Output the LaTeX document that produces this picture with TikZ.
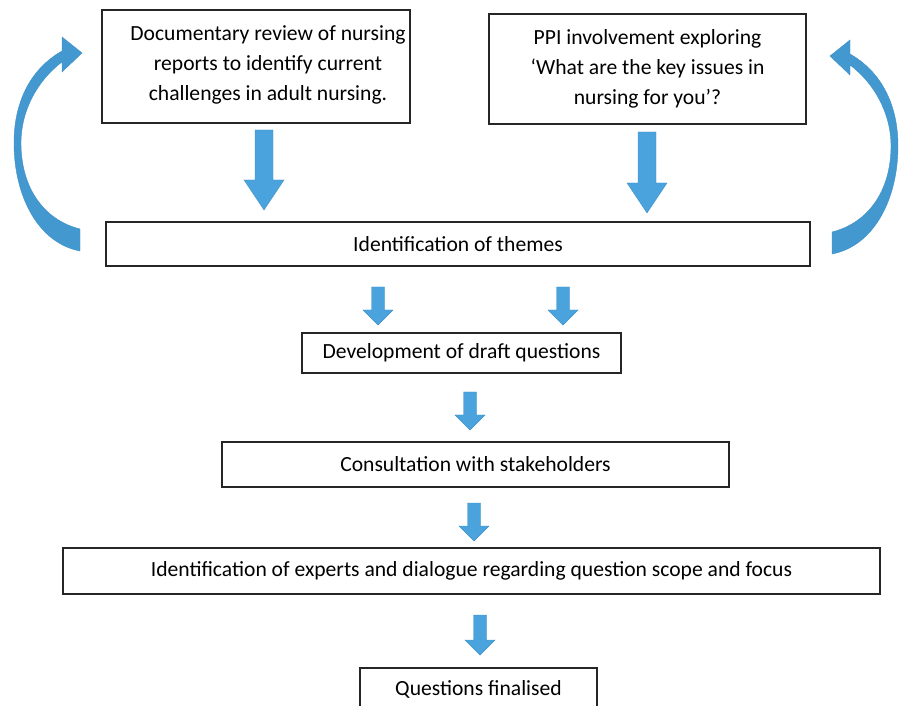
\documentclass[tikz,border=0pt]{standalone}
\usepackage{fontspec}
\setmainfont{Carlito}
\usetikzlibrary{positioning}

\definecolor{arrowblue}{RGB}{74,163,221}
\definecolor{arrowedge}{RGB}{62,145,200}
\definecolor{curveblue}{RGB}{66,152,207}

\tikzset{
  boxtext/.style={align=center, inner sep=0pt, font=\fontsize{16.2}{22.5}\selectfont},
  box/.style={boxtext, draw=black!85, line width=1.1pt},
  blockarrow/.style={fill=arrowblue, draw=arrowedge, line width=0.3pt},
  curvearrow/.style={fill=curveblue, draw=arrowedge, line width=0.3pt},
}

% block arrow pointing down: centre x, top y, tip y, half shaft, half head, head start y
\newcommand{\downarr}[6]{%
  \filldraw[blockarrow] (#1-#4,#2) -- (#1+#4,#2) -- (#1+#4,#6) -- (#1+#5,#6)
    -- (#1,#3) -- (#1-#5,#6) -- (#1-#4,#6) -- cycle;}

% curved arrow on the left, tail at the bottom, head at the top
\newcommand{\loopback}{%
  (80,251) .. controls (38,243) and (14,196) .. (14,143)
    .. controls (14,100) and (32,68) .. (62,51)
    -- (62,37) -- (82,53) -- (62,72) -- (62,62)
    .. controls (38,80) and (21,110) .. (21,143)
    .. controls (21,188) and (44,220) .. (80,229) -- cycle}

\begin{document}
\begin{tikzpicture}[x=0.75pt,y=-0.75pt]
  \clip (0,0) rectangle (901,706);

  % boxes
  \node[box, minimum width=231pt, minimum height=84.75pt] (review) at (256,66.5) {};
  \node[boxtext] (reviewtext) at ([xshift=9pt,yshift=1.5pt]review.center)
    {Documentary review of nursing\\reports to identify current\\challenges in adult nursing.};
  \node[box, minimum width=237.75pt, minimum height=82.5pt] (ppi) at (647.5,69)
    {PPI involvement exploring\\‘What are the key issues in\\nursing for you’?};
  \node[box, minimum width=528pt, minimum height=33pt] (themes) at (458,244)
    {Identification of themes};
  \node[box, minimum width=239.25pt, minimum height=30pt] (draft) at (461.5,353)
    {Development of draft questions};
  \node[box, minimum width=380.25pt, minimum height=33.75pt] (consult) at (475.5,464.5)
    {Consultation with stakeholders};
  \node[box, minimum width=612.75pt, minimum height=34.5pt] (experts) at (471.5,571)
    {Identification of experts and dialogue regarding question scope and focus};
  \node[box, minimum width=177.75pt, minimum height=31.5pt] (final) at (478.5,689)
    {Questions finalised};

  % down arrows
  \downarr{264}{130}{210}{9}{20}{180}
  \downarr{647}{132}{213}{9}{20}{183}
  \downarr{378}{287}{325}{6.5}{15}{310}
  \downarr{563}{287}{325}{6.5}{15}{310}
  \downarr{470}{392}{430}{6.5}{15}{415}
  \downarr{474}{503}{541}{6.5}{15}{526}
  \downarr{480}{615}{655}{6.5}{15}{640}

  % curved arrows back to the top
  \filldraw[curvearrow] \loopback;
  \begin{scope}[shift={(912,3)}, xscale=-1]
    \filldraw[curvearrow] \loopback;
  \end{scope}
\end{tikzpicture}
\end{document}
